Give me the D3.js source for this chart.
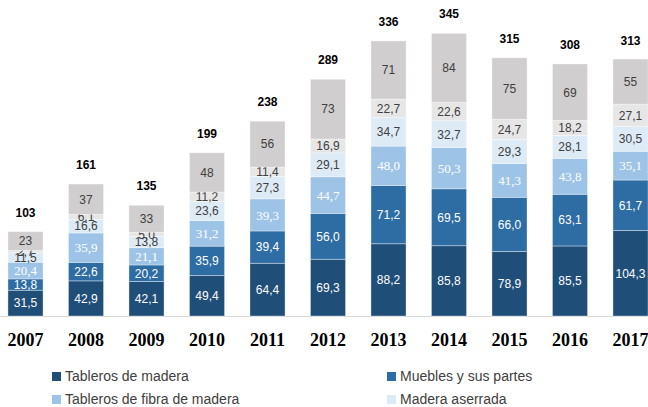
<!DOCTYPE html>
<html>
<head>
<meta charset="utf-8">
<script src="https://cdn.jsdelivr.net/npm/d3@7"></script>
<style>
  body { margin: 0; background: #fff; }
  svg { display: block; }
</style>
</head>
<body>
<div id="chart"></div>
<script>
const years = ["2007", "2008", "2009", "2010", "2011", "2012", "2013", "2014", "2015", "2016", "2017"];
const seriesNames = ["Tableros de madera", "Muebles y sus partes", "Tableros de fibra de madera", "Madera aserrada", "Serie 5", "Serie 6"];
const tablerosMadera = [31.5, 42.9, 42.1, 49.4, 64.4, 69.3, 88.2, 85.8, 78.9, 85.5, 104.3];
const muebles = [13.8, 22.6, 20.2, 35.9, 39.4, 56.0, 71.2, 69.5, 66.0, 63.1, 61.7];
const tablerosFibra = [20.4, 35.9, 21.1, 31.2, 39.3, 44.7, 48.0, 50.3, 41.3, 43.8, 35.1];
const maderaAserrada = [11.5, 16.6, 13.8, 23.6, 27.3, 29.1, 34.7, 32.7, 29.3, 28.1, 30.5];
const serie5 = [2.7, 6.1, 5.0, 11.2, 11.4, 16.9, 22.7, 22.6, 24.7, 18.2, 27.1];
const serie6 = [23, 37, 33, 48, 56, 73, 71, 84, 75, 69, 55];
const totals = [103, 161, 135, 199, 238, 289, 336, 345, 315, 308, 313];

const seriesValues = [tablerosMadera, muebles, tablerosFibra, maderaAserrada, serie5, serie6];
const colors = ["#1f4e79", "#2e6da4", "#9dc3e6", "#ddebf7", "#e7e6e6", "#d0cece"];
const labelColors = ["#fff", "#fff", "#fff", "#404040", "#404040", "#404040"];
const labelFonts = ["Liberation Sans", "Liberation Sans", "Liberation Serif", "Liberation Sans", "Liberation Sans", "Liberation Sans"];
const legendCount = 4;

const width = 648;
const height = 407;
const baseY = 316;

const svg = d3.select("#chart")
    .append("svg")
    .attr("width", width)
    .attr("height", height);

// build rows for the stack
const rows = years.map((y, i) => {
    const row = { year: y };
    seriesValues.forEach((vals, k) => { row["s" + k] = vals[i]; });
    return row;
});
const keys = seriesValues.map((v, k) => "s" + k);
const stacked = d3.stack().keys(keys)(rows);

const x = d3.scaleBand()
    .domain(years)
    .range([-4.75, 660.75])
    .paddingInner(0.42)
    .paddingOuter(0.21);

const y = d3.scaleLinear()
    .domain([0, 345])
    .range([baseY, baseY - 282.6]);

// baseline
svg.append("line")
    .attr("x1", 0).attr("x2", width)
    .attr("y1", baseY + 0.5).attr("y2", baseY + 0.5)
    .style("stroke", "#d9d9d9")
    .style("stroke-width", 1);

const layers = svg.selectAll(".layer")
    .data(stacked)
    .enter()
    .append("g")
    .attr("class", "layer");

layers.selectAll("rect")
    .data(d => d.map(p => ({ p, k: d.index })))
    .enter()
    .append("rect")
    .attr("x", d => x(d.p.data.year))
    .attr("width", x.bandwidth())
    .attr("y", d => y(d.p[1]))
    .attr("height", d => y(d.p[0]) - y(d.p[1]))
    .style("fill", d => colors[d.k])
    .style("stroke", "rgba(255,255,255,0.45)")
    .style("stroke-width", 0.8);

// segment labels
layers.selectAll("text")
    .data(d => d.map(p => ({ p, k: d.index })))
    .enter()
    .append("text")
    .attr("x", d => x(d.p.data.year) + x.bandwidth() / 2)
    .attr("y", d => (y(d.p[0]) + y(d.p[1])) / 2)
    .attr("dy", "0.36em")
    .attr("text-anchor", "middle")
    .style("font-family", d => labelFonts[d.k])
    .style("font-size", d => d.k === 2 ? "13px" : "12px")
    .style("fill", d => labelColors[d.k])
    .text(d => {
        const v = d.p[1] - d.p[0];
        return d.k === 5 ? d3.format(".0f")(v) : d3.format(".1f")(v).replace(".", ",");
    });

// totals
svg.selectAll(".total")
    .data(years)
    .enter()
    .append("text")
    .attr("class", "total")
    .attr("x", d => x(d) + x.bandwidth() / 2)
    .attr("y", (d, i) => y(totals[i]) - 15)
    .attr("text-anchor", "middle")
    .style("font-family", "Liberation Sans")
    .style("font-weight", "bold")
    .style("font-size", "12px")
    .style("fill", "#000")
    .text((d, i) => totals[i]);

// year axis
const xAxis = svg.append("g")
    .attr("transform", `translate(0,${baseY})`)
    .call(d3.axisBottom(x).tickSize(0).tickPadding(0));
xAxis.select(".domain").remove();
xAxis.selectAll("text")
    .attr("y", 30)
    .attr("dy", 0)
    .style("font-family", "Liberation Serif")
    .style("font-weight", "bold")
    .style("font-size", "18px")
    .style("fill", "#000");

// legend
const legendPos = [
    { x: 52, y: 376 },
    { x: 387, y: 376 },
    { x: 52, y: 399 },
    { x: 387, y: 399 }
];
const legend = svg.selectAll(".legend")
    .data(seriesNames.slice(0, legendCount))
    .enter()
    .append("g")
    .attr("class", "legend")
    .attr("transform", (d, i) => `translate(${legendPos[i].x},${legendPos[i].y})`);

legend.append("rect")
    .attr("x", 0).attr("y", -4)
    .attr("width", 9).attr("height", 9)
    .style("fill", (d, i) => colors[i]);

legend.append("text")
    .attr("x", 13)
    .attr("y", 0)
    .attr("dy", "0.36em")
    .style("font-family", "Liberation Sans")
    .style("font-size", "14px")
    .style("fill", "#404040")
    .text(d => d);
</script>
</body>
</html>
